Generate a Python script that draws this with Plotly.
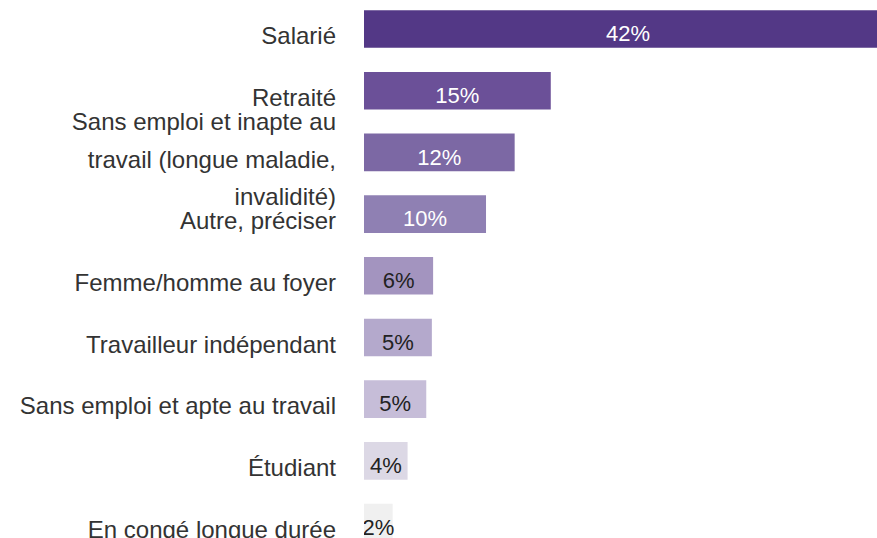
import plotly.graph_objects as go

categories = [
    "Salarié",
    "Retraité",
    "Sans emploi et inapte au<br>travail (longue maladie,<br>invalidité)",
    "Autre, préciser",
    "Femme/homme au foyer",
    "Travailleur indépendant",
    "Sans emploi et apte au travail",
    "Étudiant",
    "En congé longue durée",
]
values = [42.4, 15.0, 12.1, 9.8, 5.55, 5.45, 5.0, 3.5, 2.3]
bar_colors = ["#533886", "#6b5098", "#7c68a4", "#8f80b3", "#a394bf",
              "#b4a9cc", "#c6bdd8", "#dcd8e5", "#f0f0f0"]
text_colors = ["#ffffff", "#ffffff", "#ffffff", "#ffffff", "#222222",
               "#222222", "#222222", "#222222", "#222222"]

span_open = "<span style='font-size:24px'>"
tick_text = [span_open + c.replace("<br>", "</span><br>" + span_open) + "</span>"
             for c in categories]

pad = "<sup><span style='font-size:22px'>\u00a0</span></sup>"

fig = go.Figure(go.Bar(
    x=values,
    y=list(range(len(categories))),
    orientation="h",
    marker=dict(color=bar_colors, line=dict(width=0)),
    texttemplate=pad + "%{x:.0f}%" + pad,
    textposition="inside",
    insidetextanchor="middle",
    constraintext="none",
    textangle=0,
    textfont=dict(family="Liberation Sans, Arial, sans-serif", size=22, color=text_colors),
    hoverinfo="skip",
))

fig.update_layout(
    width=877, height=538,
    margin=dict(l=364, r=0, t=0, b=0),
    paper_bgcolor="white", plot_bgcolor="white",
    bargap=0.39,
    showlegend=False,
    font=dict(family="Liberation Sans, Arial, sans-serif", color="#333333"),
)
fig.update_xaxes(range=[0, 41.2], visible=False, fixedrange=True)
fig.update_yaxes(
    range=[8.25, -0.47],
    tickmode="array",
    tickvals=list(range(len(categories))),
    ticktext=tick_text,
    tickfont=dict(size=29, color="#333333", family="Liberation Sans, Arial, sans-serif"),
    ticks="",
    showgrid=False, zeroline=False, showline=False,
    ticklabelstandoff=27,
    ticklabelshift=-5,
    ticklabeloverflow="allow",
    fixedrange=True,
    automargin=False,
)

fig.write_html("out.html", config={"displayModeBar": False},
               post_script="document.body.style.margin='0';document.body.style.overflow='hidden';")
